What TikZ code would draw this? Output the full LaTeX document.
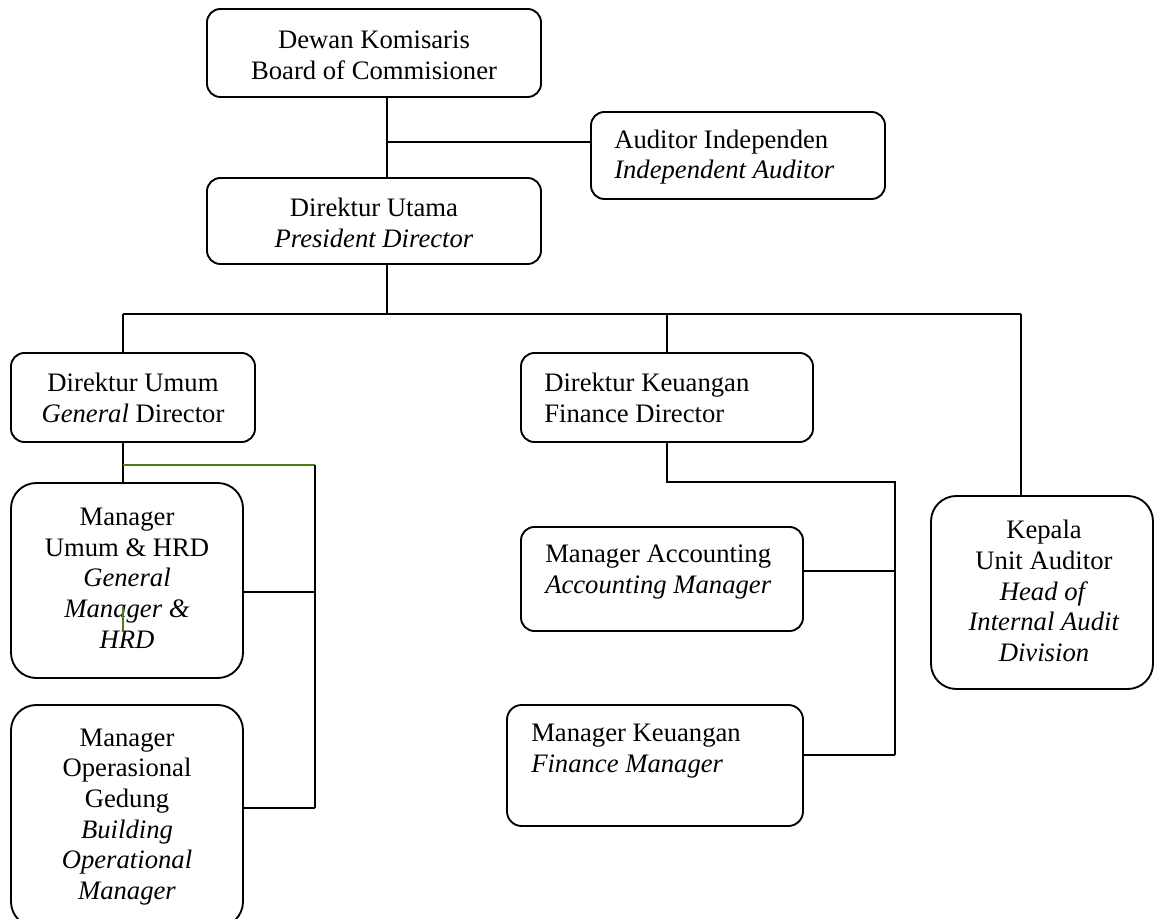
\documentclass[tikz,border=0pt]{standalone}
\usepackage{fontspec}
\setmainfont{Liberation Serif}
\definecolor{lineGreen}{RGB}{79,122,26}
\begin{document}
\begin{tikzpicture}[x=0.75pt,y=-0.75pt,
  box/.style={draw, line width=1.4pt, rounded corners=10pt, inner sep=0pt},
  bigbox/.style={box, rounded corners=19pt},
  txt/.style={font=\fontsize{20}{23}\selectfont, inner sep=0pt},
  ctxt/.style={txt, align=center},
  ltxt/.style={txt, align=left, anchor=west},
  conn/.style={line width=1.1pt},
  gconn/.style={line width=1.1pt, draw=lineGreen}]
\useasboundingbox (0,0) rectangle (1154,919);

% boxes
\node[box, minimum width=250.5pt, minimum height=66pt] (dk) at (374,53) {};
\node[box, minimum width=220.5pt, minimum height=65.25pt] (ai) at (738,155.5) {};
\node[box, minimum width=250.5pt, minimum height=64.5pt] (du) at (374,221) {};
\node[box, minimum width=183pt, minimum height=66.75pt] (dum) at (133,397.5) {};
\node[box, minimum width=219pt, minimum height=66.75pt] (dke) at (667,397.5) {};
\node[bigbox, minimum width=174pt, minimum height=146.25pt] (mu) at (127,580.5) {};
\node[bigbox, minimum width=174pt, minimum height=166.5pt] (mo) at (127,816) {};
\node[box, minimum width=211.5pt, minimum height=78pt] (ma) at (662,579) {};
\node[box, minimum width=222pt, minimum height=90.75pt, rounded corners=11pt] (mk) at (655,765.5) {};
\node[bigbox, minimum width=166.5pt, minimum height=144.75pt] (kp) at (1042,592.5) {};

% texts
\node[ctxt] (tdk) at (374,55) {Dewan Komisaris\\Board of Commisioner};
\node[ltxt] (tai) at (614,157) {Auditor Independen\\\textit{Independent Auditor}};
\node[ctxt] (tdu) at (374,223) {Direktur Utama\\\textit{President Director}};
\node[ctxt] (tdum) at (133,398) {Direktur Umum\\\textit{General} Director};
\node[ltxt] (tdke) at (544,398) {Direktur Keuangan\\Finance Director};
\node[ctxt] (tmu) at (127,578) {Manager\\Umum \& HRD\\\textit{General}\\\textit{Manager \&}\\\textit{HRD}};
\node[ctxt] (tmo) at (127,817) {Manager\\Operasional\\Gedung\\\textit{Building}\\\textit{Operational}\\\textit{Manager}};
\node[ltxt] (tma) at (545,572) {Manager Accounting\\\textit{Accounting Manager}};
\node[ltxt] (tmk) at (531,751) {Manager Keuangan\\\textit{Finance Manager}};
\node[ctxt] (tkp) at (1044,591) {Kepala\\Unit Auditor\\\textit{Head of}\\\textit{Internal Audit}\\\textit{Division}};

% junction coordinates
\coordinate (trunk) at (387,142);
\coordinate (busL) at (123,314);
\coordinate (busT) at (387,314);
\coordinate (busR) at (1021,314);
\coordinate (gL) at (123,465);
\coordinate (gR) at (315,465);
\coordinate (h1) at (315,592);
\coordinate (vB) at (315,808);
\coordinate (tk1) at (123,607);
\coordinate (tk2) at (123,632);
\coordinate (fk) at (667,482);
\coordinate (fr) at (895,482);
\coordinate (fa) at (895,571);
\coordinate (fb) at (895,755);

% connectors
\draw[conn] (dk.south -| trunk) -- (du.north -| trunk);
\draw[conn] (trunk) -- (trunk -| ai.west);
\draw[conn] (du.south -| busT) -- (busT);
\draw[conn] (busL) -- (busR);
\draw[conn] (busL) -- (busL |- dum.north);
\draw[conn] (dke.north |- busL) -- (dke.north);
\draw[conn] (busR) -- (busR |- kp.north);
\draw[conn] (dum.south -| busL) -- (mu.north -| busL);
\draw[gconn] (gL) -- (gR);
\draw[conn] (gR) -- (vB);
\draw[conn] (h1 -| mu.east) -- (h1);
\draw[conn] (vB -| mo.east) -- (vB);
\draw[gconn] (tk1) -- (tk2);
\draw[conn] (dke.south) -- (fk) -- (fr) -- (fb);
\draw[conn] (fa -| ma.east) -- (fa);
\draw[conn] (fb -| mk.east) -- (fb);
\end{tikzpicture}
\end{document}
